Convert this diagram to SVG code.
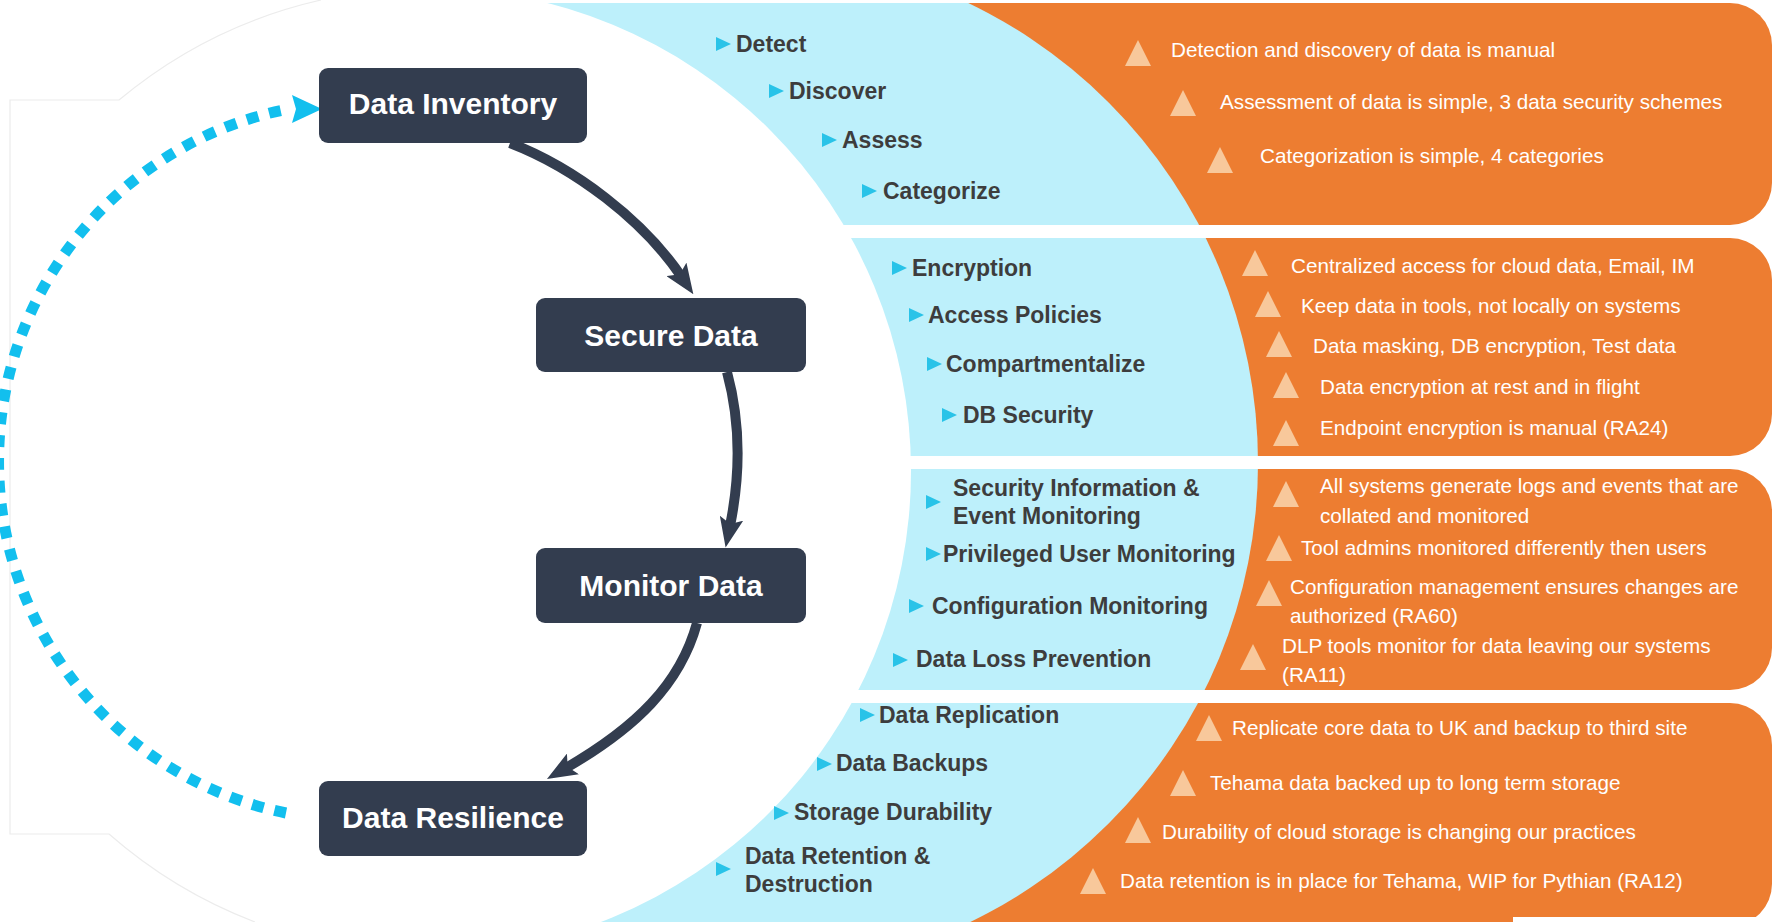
<svg xmlns="http://www.w3.org/2000/svg" xmlns:xlink="http://www.w3.org/1999/xlink" width="1775" height="922" viewBox="0 0 1775 922">
<defs>
<style>
.node rect{fill:#333d4f}
.node text{font-family:"Liberation Sans",Arial,sans-serif;font-weight:bold;font-size:30px;fill:#ffffff;text-anchor:middle}
.item{font-family:"Liberation Sans",Arial,sans-serif;font-weight:bold;font-size:23px;fill:#3d3d3d}
.note{font-family:"Liberation Sans",Arial,sans-serif;font-size:20.7px;fill:#ffffff}
.bul{fill:#29c3e8}
.tri{fill:#f8c89b}
.orange{fill:#ed7d31}
.flow{fill:none;stroke:#333d4f;stroke-width:10}
.loop{fill:none;stroke:#12bfee;stroke-width:11;stroke-dasharray:12 11}
</style>
<clipPath id="bands">
<rect x="0" y="3" width="1775" height="222"/>
<rect x="0" y="238" width="1775" height="218"/>
<rect x="0" y="469" width="1775" height="221"/>
<rect x="0" y="703" width="1775" height="219"/>
</clipPath>
<marker id="ahDark" markerUnits="userSpaceOnUse" viewBox="0 0 30 24" markerWidth="30" markerHeight="24" refX="8" refY="12" orient="auto">
<path d="M0,0 L30,12 L0,24 L6,12 Z" fill="#333d4f"/>
</marker>
<marker id="ahBlue" markerUnits="userSpaceOnUse" viewBox="-6 0 36 28" markerWidth="36" markerHeight="28" refX="-4" refY="14" orient="0">
<path d="M0,0 L30,14 L0,28 L4,14 Z" fill="#12bfee"/>
</marker>
<path id="bt" d="M-7,-7 L8,0 L-7,7 Z"/>
<path id="pt" d="M0,-13 L13,13 L-13,13 Z"/>
</defs>

<rect x="0" y="0" width="1775" height="922" fill="#ffffff"/>

<g id="background">
<rect class="orange" x="700" y="3" width="1072" height="222" rx="42"/>
<rect class="orange" x="700" y="238" width="1072" height="218" rx="42"/>
<rect class="orange" x="700" y="469" width="1072" height="221" rx="42"/>
<rect class="orange" x="700" y="703" width="1072" height="223" rx="42"/>
<circle cx="748" cy="463" r="510" fill="#bdf0fb" clip-path="url(#bands)"/>
<circle cx="428" cy="471" r="483" fill="#ffffff"/>
<path d="M321,0 A483,483 0 0 0 119,100 L10,100 L10,834 L109,834 A483,483 0 0 0 255,922" fill="none" stroke="#ececec" stroke-width="1.2"/>
<rect x="1513" y="917" width="262" height="5" fill="#ffffff"/>
</g>

<g id="connectors">
<path class="flow" d="M510,143 C575,168 643,220 681,276" marker-end="url(#ahDark)"/>
<path class="flow" d="M727,372 C740,420 741,472 730,526" marker-end="url(#ahDark)"/>
<path class="flow" d="M697,623 C680,685 635,728 566,768" marker-end="url(#ahDark)"/>
<path class="loop" d="M286,813 A359,359 0 0 1 288,109" marker-end="url(#ahBlue)"/>
</g>

<g id="node-data-inventory" class="node">
<rect x="319" y="68" width="268" height="75" rx="9"/>
<text x="453" y="114">Data Inventory</text>
</g>
<g id="node-secure-data" class="node">
<rect x="536" y="298" width="270" height="74" rx="9"/>
<text x="671" y="346">Secure Data</text>
</g>
<g id="node-monitor-data" class="node">
<rect x="536" y="548" width="270" height="75" rx="9"/>
<text x="671" y="596">Monitor Data</text>
</g>
<g id="node-data-resilience" class="node">
<rect x="319" y="781" width="268" height="75" rx="9"/>
<text x="453" y="828">Data Resilience</text>
</g>

<g id="list-inventory">
<use href="#bt" class="bul" x="723" y="44"/><text class="item" x="736" y="52">Detect</text>
<use href="#bt" class="bul" x="776" y="91"/><text class="item" x="789" y="99">Discover</text>
<use href="#bt" class="bul" x="829" y="140"/><text class="item" x="842" y="148">Assess</text>
<use href="#bt" class="bul" x="869" y="191"/><text class="item" x="883" y="199">Categorize</text>
</g>
<g id="notes-inventory">
<use href="#pt" class="tri" x="1138" y="53"/><text class="note" x="1171" y="57">Detection and discovery of data is manual</text>
<use href="#pt" class="tri" x="1183" y="103"/><text class="note" x="1220" y="109">Assessment of data is simple, 3 data security schemes</text>
<use href="#pt" class="tri" x="1220" y="160"/><text class="note" x="1260" y="163">Categorization is simple, 4 categories</text>
</g>

<g id="list-secure">
<use href="#bt" class="bul" x="899" y="268"/><text class="item" x="912" y="276">Encryption</text>
<use href="#bt" class="bul" x="916" y="315"/><text class="item" x="928" y="323">Access Policies</text>
<use href="#bt" class="bul" x="934" y="364"/><text class="item" x="946" y="372">Compartmentalize</text>
<use href="#bt" class="bul" x="949" y="415"/><text class="item" x="963" y="423">DB Security</text>
</g>
<g id="notes-secure">
<use href="#pt" class="tri" x="1255" y="263"/><text class="note" x="1291" y="273">Centralized access for cloud data, Email, IM</text>
<use href="#pt" class="tri" x="1268" y="304"/><text class="note" x="1301" y="313">Keep data in tools, not locally on systems</text>
<use href="#pt" class="tri" x="1279" y="344"/><text class="note" x="1313" y="353">Data masking, DB encryption, Test data</text>
<use href="#pt" class="tri" x="1286" y="385"/><text class="note" x="1320" y="394">Data encryption at rest and in flight</text>
<use href="#pt" class="tri" x="1286" y="433"/><text class="note" x="1320" y="435">Endpoint encryption is manual (RA24)</text>
</g>

<g id="list-monitor">
<use href="#bt" class="bul" x="933" y="502"/><text class="item" x="953" y="496">Security Information &amp;</text><text class="item" x="953" y="524">Event Monitoring</text>
<use href="#bt" class="bul" x="933" y="554"/><text class="item" x="943" y="562">Privileged User Monitoring</text>
<use href="#bt" class="bul" x="916" y="606"/><text class="item" x="932" y="614">Configuration Monitoring</text>
<use href="#bt" class="bul" x="900" y="660"/><text class="item" x="916" y="667">Data Loss Prevention</text>
</g>
<g id="notes-monitor">
<use href="#pt" class="tri" x="1286" y="494"/><text class="note" x="1320" y="493">All systems generate logs and events that are</text><text class="note" x="1320" y="523">collated and monitored</text>
<use href="#pt" class="tri" x="1279" y="548"/><text class="note" x="1301" y="555">Tool admins monitored differently then users</text>
<use href="#pt" class="tri" x="1269" y="593"/><text class="note" x="1290" y="594">Configuration management ensures changes are</text><text class="note" x="1290" y="623">authorized (RA60)</text>
<use href="#pt" class="tri" x="1253" y="657"/><text class="note" x="1282" y="653">DLP tools monitor for data leaving our systems</text><text class="note" x="1282" y="682">(RA11)</text>
</g>

<g id="list-resilience">
<use href="#bt" class="bul" x="867" y="715"/><text class="item" x="879" y="723">Data Replication</text>
<use href="#bt" class="bul" x="824" y="764"/><text class="item" x="836" y="771">Data Backups</text>
<use href="#bt" class="bul" x="781" y="813"/><text class="item" x="794" y="820">Storage Durability</text>
<use href="#bt" class="bul" x="723" y="869"/><text class="item" x="745" y="864">Data Retention &amp;</text><text class="item" x="745" y="892">Destruction</text>
</g>
<g id="notes-resilience">
<use href="#pt" class="tri" x="1209" y="728"/><text class="note" x="1232" y="735">Replicate core data to UK and backup to third site</text>
<use href="#pt" class="tri" x="1183" y="783"/><text class="note" x="1210" y="790">Tehama data backed up to long term storage</text>
<use href="#pt" class="tri" x="1138" y="830"/><text class="note" x="1162" y="839">Durability of cloud storage is changing our practices</text>
<use href="#pt" class="tri" x="1093" y="881"/><text class="note" x="1120" y="888">Data retention is in place for Tehama, WIP for Pythian (RA12)</text>
</g>
</svg>
